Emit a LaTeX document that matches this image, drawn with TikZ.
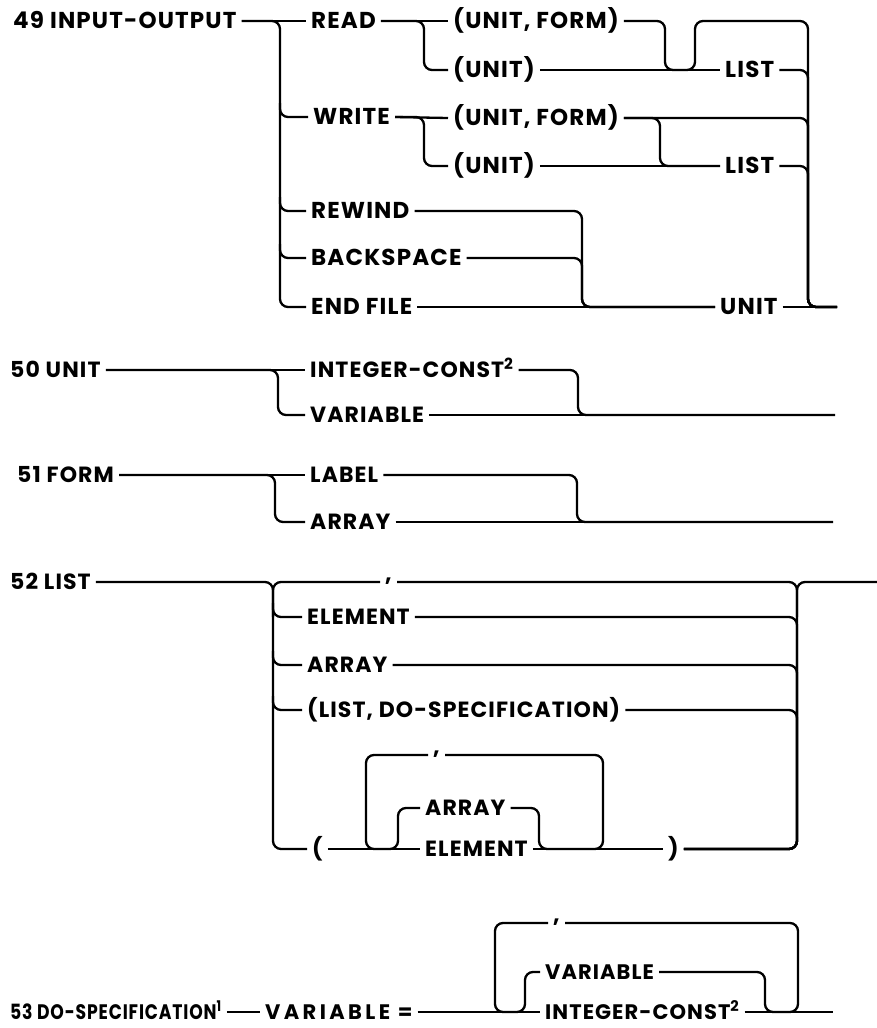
\documentclass[tikz,border=0pt]{standalone}
\usepackage{fontspec}
\setmainfont{Poppins}[LetterSpace=5]
\newfontfamily\narrowfont{Poppins}[FakeStretch=0.82, LetterSpace=4]
\newfontfamily\widefont{Poppins}[LetterSpace=16]
\usepackage{tikz}

\tikzset{
    rail/.style={line width=2.3pt, rounded corners=8pt},
    word/.style={anchor=west, xshift=-5pt, inner xsep=5pt, inner ysep=0pt,
        text height=15pt, text depth=0pt, font=\bfseries\fontsize{23}{25}\selectfont},
    sword/.style={word, font=\bfseries\fontsize{22}{24}\selectfont},
    tword/.style={word, font=\bfseries\fontsize{21}{23}\selectfont},
    sepmark/.style={word, text height=4pt, text depth=6pt}
}

\begin{document}
\begin{tikzpicture}[x=1pt, y=-1pt]
    \useasboundingbox (0,0) rectangle (877,1028);
    % 49 INPUT-OUTPUT
    \node[word] (io) at (13,21) {49 INPUT-OUTPUT};
    \node[word] (read) at (311,21) {READ};
    \node[word] (write) at (313,117) {WRITE};
    \node[word] (rewind) at (311,211) {REWIND};
    \node[word] (backspace) at (311,258) {BACKSPACE};
    \node[word] (endfile) at (311,307) {END FILE};
    \node[word] (uf1) at (453,21) {(UNIT, FORM)};
    \node[word] (u1) at (453,70) {(UNIT)};
    \node[word] (uf2) at (453,118) {(UNIT, FORM)};
    \node[word] (u2) at (453,166) {(UNIT)};
    \node[word] (list1) at (725,70) {LIST};
    \node[word] (list2) at (725,166) {LIST};
    \node[word] (unit) at (720,307) {UNIT};
    \coordinate (s49) at (280,0);
    \coordinate (rw) at (424,0);
    \coordinate (ua) at (665,0);
    \coordinate (ub) at (695,0);
    \coordinate (uc) at (660,0);
    \coordinate (bk) at (582,0);
    \coordinate (out49) at (808,0);
    \coordinate (end49) at (837,307);
    \draw[rail] (io.east) -- (read.west);
    \draw[rail] (io.east) -| (s49 |- endfile.west) -- (endfile.west);
    \foreach \n in {write,rewind,backspace}
        \draw[rail] (s49 |- \n.west) ++(0,-14) |- (\n.west);
    \draw[rail] (read.east) -- (uf1.west);
    \draw[rail] (read.east) -| (rw |- u1.west) -- (u1.west);
    \draw[rail] (write.east) -- (uf2.west);
    \draw[rail] (write.east) -| (rw |- u2.west) -- (u2.west);
    \draw[rail] (uf1.east) -| (ua |- u1.west) -| (ub |- uf1.west) -| (out49 |- unit.west) -- (end49); % loop over LIST
    \draw[rail] (u1.east) -- (list1.west);
    \draw[rail] (uf2.east) -| (uc |- u2.west) -- (list2.west);
    \draw[rail] (u2.east) -- (list2.west);
    \foreach \n in {list1,uf2,list2}
        \draw[rail] (\n.east) -| (out49 |- unit.west) -- (end49);
    \draw[rail] (rewind.east) -| (bk |- endfile.west) -- (unit.west);
    \draw[rail] (backspace.east) -| (bk |- endfile.west) -- (unit.west);
    \draw[rail] (endfile.east) -- (unit.west);
    \draw[rail] (unit.east) -- (end49);

    % 50 UNIT
    \node[sword] (unit50) at (10,370) {50 UNIT};
    \node[sword] (intc50) at (310,370) {INTEGER-CONST\textsuperscript{2}};
    \node[sword] (var50) at (310,415) {VARIABLE};
    \coordinate (s50) at (278,0);
    \coordinate (m50) at (578,0);
    \coordinate (end50) at (835,415);
    \draw[rail] (unit50.east) -- (intc50.west);
    \draw[rail] (unit50.east) -| (s50 |- var50.west) -- (var50.west);
    \draw[rail] (intc50.east) -| (m50 |- var50.west) -- (end50);
    \draw[rail] (var50.east) -- (end50);

    % 51 FORM
    \node[sword] (form51) at (17,475) {51 FORM};
    \node[sword] (label51) at (310,475) {LABEL};
    \node[sword] (arr51) at (310,522) {ARRAY};
    \coordinate (s51) at (275,0);
    \coordinate (m51) at (577,0);
    \coordinate (end51) at (833,522);
    \draw[rail] (form51.east) -- (label51.west);
    \draw[rail] (form51.east) -| (s51 |- arr51.west) -- (arr51.west);
    \draw[rail] (label51.east) -| (m51 |- arr51.west) -- (end51);
    \draw[rail] (arr51.east) -- (end51);

    % 52 LIST
    \node[sword] (list52) at (10,582) {52 LIST};
    \node[sepmark] (c52) at (385,582) {,};
    \node[sword] (elem52) at (307,617) {ELEMENT};
    \node[sword] (arr52) at (307,665) {ARRAY};
    \node[sword] (ldo52) at (307,710) {(LIST, DO-SPECIFICATION)};
    \node[sword] (lp52) at (312,849) {(};
    \node[sepmark] (ic52) at (433,755) {,};
    \node[sword] (iarr52) at (425,808) {ARRAY};
    \node[sword] (ielem52) at (425,849) {ELEMENT};
    \node[sword] (rp52) at (668,849) {)};
    \coordinate (s52) at (273,0);
    \coordinate (t52) at (797,0);
    \coordinate (la) at (366,0);
    \coordinate (lb) at (398,0);
    \coordinate (lc) at (539,0);
    \coordinate (ld) at (603,0);
    \coordinate (end52) at (877,582);
    \draw[rail] (list52.east) -| (s52 |- lp52.west) -- (lp52.west);
    \draw[rail] (s52 |- elem52.west) |- (c52.west);
    \draw[rail] (c52.east) -| (t52 |- rp52.east) -- (rp52.east);
    \draw[rail] (t52 |- elem52.west) |- (end52);
    \foreach \n in {elem52,arr52,ldo52} {
        \draw[rail] (s52 |- \n.west) ++(0,-14) |- (\n.west);
        \draw[rail] (\n.east) -| (t52 |- rp52.east) -- (rp52.east);
    }
    \draw[rail] (lp52.east) -- (ielem52.west);
    \draw[rail] (ielem52.east) -- (rp52.west);
    \draw[rail] (ic52.west) -| (la |- ielem52.west) -| (lb |- iarr52.west) -- (iarr52.west);
    \draw[rail] (iarr52.east) -| (lc |- ielem52.east) -| (ld |- ic52.east) -- (ic52.east);

    % 53 DO-SPECIFICATION
    \node[tword, font=\narrowfont\bfseries\fontsize{21}{23}\selectfont] (do53) at (10,1012) {53 DO-SPECIFICATION\textsuperscript{1}};
    \node[tword, font=\widefont\bfseries\fontsize{21}{23}\selectfont] (veq53) at (265,1012) {VARIABLE =};
    \node[sepmark] (c53) at (553,923) {,};
    \node[tword] (var53) at (545,972) {VARIABLE};
    \node[tword] (ic53) at (545,1012) {INTEGER-CONST\textsuperscript{2}};
    \coordinate (la53) at (495,0);
    \coordinate (lb53) at (525,0);
    \coordinate (lc53) at (765,0);
    \coordinate (ld53) at (798,0);
    \coordinate (end53) at (833,1012);
    \draw[rail] (do53.east) -- (veq53.west);
    \draw[rail] (veq53.east) -- (ic53.west);
    \draw[rail] (ic53.east) -- (end53);
    \draw[rail] (c53.west) -| (la53 |- ic53.west) -| (lb53 |- var53.west) -- (var53.west);
    \draw[rail] (var53.east) -| (lc53 |- ic53.east) -| (ld53 |- c53.east) -- (c53.east);
\end{tikzpicture}
\end{document}
